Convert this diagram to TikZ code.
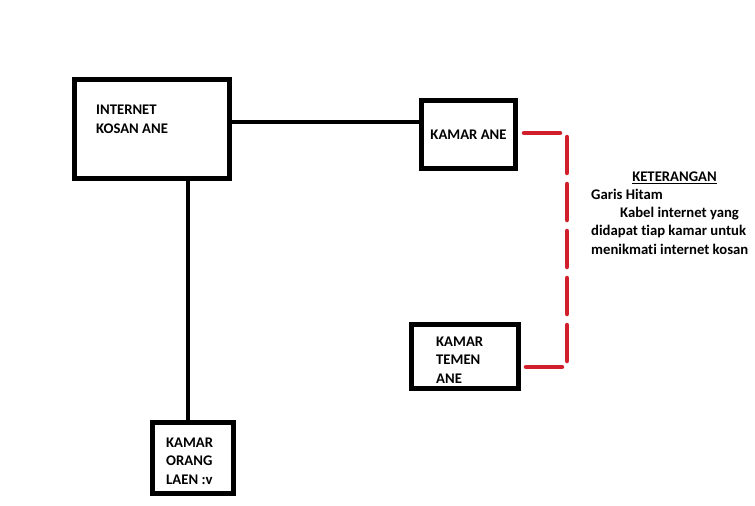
\documentclass[tikz,border=0pt]{standalone}
\usepackage{fontspec}
\setmainfont{Carlito}[RawFeature=-liga]
\usepackage{tikz}
\usetikzlibrary{positioning}
\definecolor{kabelred}{RGB}{208,30,42}

\begin{document}
\begin{tikzpicture}[
    x=1pt, y=-1pt,
    box/.style={rectangle, draw, line width=5pt, inner sep=0pt, font=\fontsize{14.7}{18}\selectfont\bfseries},
    txt/.style={inner sep=0pt, align=left, font=\fontsize{14.7}{18.3}\selectfont\bfseries},
    cable/.style={line width=4.5pt},
    redcable/.style={draw=kabelred, line width=4.5pt, line cap=round, dash pattern=on 36pt off 11pt}
]
\useasboundingbox (0,0) rectangle (755,506);

% Boxes
\node [box, minimum width=155pt, minimum height=99pt] (internet) at (152,129) {};
\node [box, minimum width=94pt, minimum height=68pt] (kamarane) at (468.5,134.5) {KAMAR ANE};
\node [box, minimum width=107pt, minimum height=64pt] (kamartemen) at (465,356.5) {};
\node [box, minimum width=81pt, minimum height=71pt] (kamarorang) at (193,458) {};

% Texts inside the boxes
\node [txt, below right=28pt and 24pt of internet.north west] (internettext) {INTERNET\\KOSAN ANE};
\node [txt, below right=14.7pt and 27pt of kamartemen.north west] (tementext) {KAMAR\\TEMEN\\ANE};
\node [txt, below right=17.7pt and 16pt of kamarorang.north west] (orangtext) {KAMAR\\ORANG\\LAEN :v};

% Cables
\draw [cable] ([yshift=7pt]internet.east) -- ([yshift=7pt]internet.east -| kamarane.west);
\draw [cable] ([xshift=36pt]internet.south) -- ([xshift=36pt]internet.south |- kamarorang.north);

% Red line
\coordinate (redtop) at (567,133);
\coordinate (redbottom) at (567,367);
\draw [redcable] ([xshift=6pt, yshift=1.5pt]kamarane.east) -- (redtop) -- (redbottom) -- ([xshift=4pt, yshift=-10.5pt]kamartemen.east);

% Legend
\node [txt, anchor=north] (keterangan) at (674.5,171.7) {\underline{KETERANGAN}};
\node [txt, anchor=north west] (garishitam) at (591,188.7) {Garis Hitam\\\hspace*{29pt}Kabel internet yang\\didapat tiap kamar untuk\\menikmati internet kosan};

\end{tikzpicture}
\end{document}
